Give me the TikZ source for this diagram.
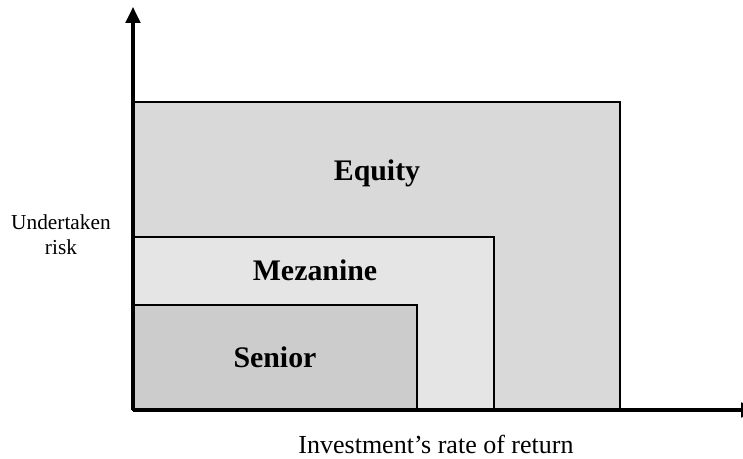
\documentclass[tikz,border=0pt]{standalone}
\usepackage{fontspec}
\setmainfont{Liberation Serif}
\usetikzlibrary{arrows.meta}

\begin{document}
\begin{tikzpicture}[x=0.75pt,y=0.75pt,
			tranche/.style={draw=black,line width=1.8pt},
			axis/.style={line width=2.4pt,-{Triangle[length=12pt,width=11pt]}},
			lab/.style={anchor=base,font=\fontsize{22.4}{26}\selectfont\bfseries},
			axlab/.style={anchor=base,align=center}]
		\useasboundingbox (0,0) rectangle (743,459);
		% origin, box corners and axis ends
		\coordinate (O)        at (133,49);
		\coordinate (equity)   at (620,357);
		\coordinate (mezanine) at (494,222);
		\coordinate (senior)   at (417,154);
		\coordinate (ytop)     at (133,452);
		\coordinate (xend)     at (757,49);
		% tranches, largest first
		\draw [tranche,fill=black!15] (O) rectangle (equity);
		\draw [tranche,fill=black!10] (O) rectangle (mezanine);
		\draw [tranche,fill=black!20] (O) rectangle (senior);
			\node [lab] (equitylab)   at (377,278) {Equity};
			\node [lab] (mezaninelab) at (315,178) {Mezanine};
			\node [lab] (seniorlab)   at (275,91)  {Senior};
		% axes
		\draw [axis] (O) -- (ytop);
		\draw [axis] (O) -- (xend);
			% base of a two-line node sits on its last line
			\node [axlab,font=\fontsize{16}{19}\selectfont] (risklab) at (61,204) {Undertaken\\risk};
			\node [axlab,font=\fontsize{19.5}{23}\selectfont] (returnlab) at (436,5) {Investment’s rate of return};
\end{tikzpicture}
\end{document}
